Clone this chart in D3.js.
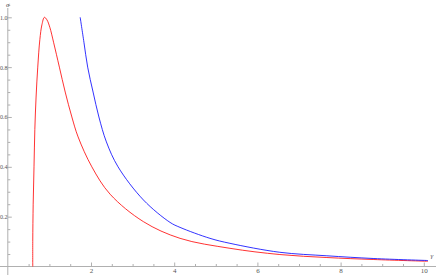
<!DOCTYPE html>
<html>
<head>
<meta charset="utf-8">
<script src="https://cdn.jsdelivr.net/npm/d3@7"></script>
<style>
  html, body { margin: 0; padding: 0; background: #fff; }
  svg { display: block; }
  text { font-family: "Liberation Serif", "DejaVu Serif", serif; }
</style>
</head>
<body>
<div id="chart"></div>
<script>
// ---- data ----
const redX = [0.60, 0.60, 0.61, 0.63, 0.65, 0.68, 0.72, 0.77, 0.82, 0.88, 0.94, 1.01, 1.10, 1.24, 1.38, 1.54, 1.69, 2.02, 2.46, 3.26, 4.14, 5.34, 6.54, 7.67, 8.80, 10.10];
const redY = [0.00, 0.10, 0.25, 0.40, 0.55, 0.68, 0.80, 0.91, 0.97, 1.00, 0.99, 0.96, 0.90, 0.80, 0.70, 0.60, 0.52, 0.40, 0.29, 0.18, 0.113, 0.073, 0.048, 0.036, 0.028, 0.021];
const blueX = [1.74, 1.83, 1.92, 2.05, 2.19, 2.37, 2.65, 3.26, 3.90, 4.14, 4.86, 5.34, 6.54, 7.67, 8.80, 10.10];
const blueY = [1.00, 0.90, 0.80, 0.70, 0.60, 0.50, 0.40, 0.267, 0.177, 0.157, 0.113, 0.093, 0.057, 0.043, 0.032, 0.024];
const xTicks = [2, 4, 6, 8, 10];
const xTickLabels = ["2", "4", "6", "8", "10"];
const yTicks = [0.2, 0.4, 0.6, 0.8, 1.0];
const yTickLabels = ["0.2", "0.4", "0.6", "0.8", "1.0"];
const xMinor = [0.5, 1, 1.5, 2.5, 3, 3.5, 4.5, 5, 5.5, 6.5, 7, 7.5, 8.5, 9, 9.5, 10.5];
const yMinor = [0.05, 0.1, 0.15, 0.25, 0.3, 0.35, 0.45, 0.5, 0.55, 0.65, 0.7, 0.75, 0.85, 0.9, 0.95, 1.05];
const xLabel = "γ";
const yLabel = "σ";

// ---- layout ----
const W = 436, H = 275;
const svg = d3.select("#chart").append("svg").attr("width", W).attr("height", H);

const x = d3.scaleLinear().domain([0, 10]).range([7.8, 423.8]);
const y = d3.scaleLinear().domain([0, 1]).range([266.5, 17.3]);

const axisColor = "#b0b0b0";
const labelColor = "#555";

// axis lines
svg.append("line")
  .attr("x1", 0).attr("x2", W)
  .attr("y1", y(0)).attr("y2", y(0))
  .attr("stroke", axisColor).attr("stroke-width", 1);
svg.append("line")
  .attr("x1", x(0)).attr("x2", x(0))
  .attr("y1", 8).attr("y2", H)
  .attr("stroke", axisColor).attr("stroke-width", 1);

function styleAxis(g, size) {
  g.select(".domain").remove();
  g.selectAll(".tick line").attr("stroke", axisColor);
  g.selectAll(".tick text").attr("fill", labelColor).style("font-size", size + "px")
    .style("font-family", "'Liberation Serif', 'DejaVu Serif', serif");
}

// x axis major
svg.append("g").attr("transform", `translate(0,${y(0)})`)
  .call(d3.axisBottom(x).tickValues(xTicks).tickSize(-4).tickPadding(2)
    .tickFormat((d, i) => xTickLabels[i]))
  .call(g => styleAxis(g, 7));
// x axis minor
svg.append("g").attr("transform", `translate(0,${y(0)})`)
  .call(d3.axisBottom(x).tickValues(xMinor).tickSize(-2.5).tickFormat(""))
  .call(g => styleAxis(g, 7));

// y axis major (labels squeezed into the narrow left margin)
svg.append("g").attr("transform", `translate(${x(0)},0)`)
  .call(d3.axisLeft(y).tickValues(yTicks).tickSize(-4).tickPadding(0.4)
    .tickFormat((d, i) => yTickLabels[i]))
  .call(g => styleAxis(g, 6));
// y axis minor
svg.append("g").attr("transform", `translate(${x(0)},0)`)
  .call(d3.axisLeft(y).tickValues(yMinor).tickSize(-2.5).tickFormat(""))
  .call(g => styleAxis(g, 6));

// axis labels
svg.append("text").attr("x", x(0)).attr("y", 7)
  .attr("text-anchor", "middle").attr("fill", labelColor)
  .style("font-size", "7px").style("font-style", "italic").text(yLabel);
svg.append("text").attr("x", 432).attr("y", 258)
  .attr("text-anchor", "middle").attr("fill", labelColor)
  .style("font-size", "7px").style("font-style", "italic").text(xLabel);

// curves
const line = d3.line()
  .x(d => x(d[0])).y(d => y(d[1]))
  .curve(d3.curveCatmullRom.alpha(0.5));

const redData = d3.zip(redX, redY);
const blueData = d3.zip(blueX, blueY);

svg.append("path").datum(redData)
  .attr("d", line).attr("fill", "none")
  .attr("stroke", "#ff0000").attr("stroke-width", 1).attr("stroke-opacity", 0.8);
svg.append("path").datum(blueData)
  .attr("d", line).attr("fill", "none")
  .attr("stroke", "#0000ff").attr("stroke-width", 1).attr("stroke-opacity", 0.8);
</script>
</body>
</html>
